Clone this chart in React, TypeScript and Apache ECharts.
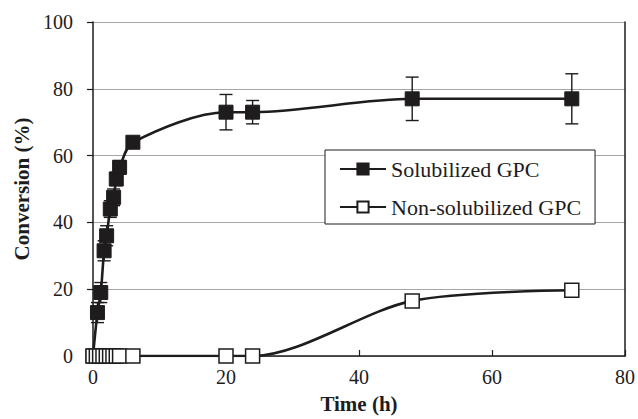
import React, { useEffect, useRef } from 'react';
import * as echarts from 'echarts';

const timeSol = [0, 0.67, 1.17, 1.67, 2.05, 2.6, 3.1, 3.5, 4, 6, 20, 24, 48, 72];
const convSol = [0, 13, 19, 31.5, 36, 44, 47.5, 53, 56.5, 64, 73, 73, 77, 77];
const errSol = [0, 3, 3, 3, 3, 2.5, 2.5, 2, 2, 1, 5.3, 3.5, 6.5, 7.5];

const timeNon = [0, 0.5, 1, 1.5, 2, 2.5, 3, 3.5, 4, 6, 20, 24, 48, 72];
const convNon = [0, 0, 0, 0, 0, 0, 0, 0, 0, 0, 0, 0, 16.5, 19.7];

const xTicks = [0, 20, 40, 60, 80];
const yTicks = [0, 20, 40, 60, 80, 100];

const seriesNames = ['Solubilized GPC', 'Non-solubilized GPC'];

const FONT = '"Liberation Serif", "Times New Roman", serif';
const INK = '#1e1c1d';

export default function App() {
  const ref = useRef<HTMLDivElement>(null);
  useEffect(() => {
    if (!ref.current) return;
    const chart = echarts.init(ref.current, null, { renderer: 'svg' });
    const solData = timeSol.map((t, i) => [t, convSol[i]]);
    const nonData = timeNon.map((t, i) => [t, convNon[i]]);
    const errData = timeSol.map((t, i) => [t, convSol[i] - errSol[i], convSol[i] + errSol[i]]);
    chart.setOption({
      animation: false,
      backgroundColor: '#fff',
      textStyle: { fontFamily: FONT },
      grid: { left: 93, right: 11, top: 22, bottom: 59, containLabel: false },
      legend: {
        data: seriesNames,
        orient: 'vertical',
        left: 325,
        top: 150,
        padding: [8, 14, 6, 14],
        itemGap: 16,
        itemWidth: 46,
        itemHeight: 14,
        borderColor: INK,
        borderWidth: 1,
        backgroundColor: '#fff',
        textStyle: { fontFamily: FONT, fontSize: 22, color: INK },
      },
      xAxis: {
        type: 'value',
        min: xTicks[0],
        max: xTicks[xTicks.length - 1],
        interval: 20,
        name: 'Time (h)',
        nameLocation: 'middle',
        nameGap: 37,
        nameTextStyle: { fontFamily: FONT, fontSize: 21, fontWeight: 'bold', color: INK },
        axisLine: { show: true, onZero: false, lineStyle: { color: INK, width: 1.5 } },
        axisTick: { show: true, inside: true, length: 6, lineStyle: { color: INK, width: 1.2 } },
        axisLabel: { fontFamily: FONT, fontSize: 20, color: INK, margin: 11 },
        splitLine: { show: false },
      },
      yAxis: [
        {
          type: 'value',
          min: yTicks[0],
          max: yTicks[yTicks.length - 1],
          interval: 20,
          name: 'Conversion (%)',
          nameLocation: 'middle',
          nameGap: 60,
          nameTextStyle: { fontFamily: FONT, fontSize: 21, fontWeight: 'bold', color: INK },
          axisLine: { show: true, lineStyle: { color: INK, width: 1.5 } },
          axisTick: { show: true, length: 6, lineStyle: { color: INK, width: 1.2 } },
          axisLabel: { fontFamily: FONT, fontSize: 20, color: INK, margin: 20 },
          splitLine: { show: true, lineStyle: { color: '#a6a6a6', width: 1.2 } },
        },
        {
          type: 'value',
          position: 'right',
          min: 0,
          max: 100,
          interval: 20,
          axisLine: { show: true, lineStyle: { color: INK, width: 1.5 } },
          axisTick: { show: false },
          axisLabel: { show: false },
          splitLine: { show: false },
        },
      ],
      series: [
        {
          name: seriesNames[0],
          type: 'line',
          data: solData,
          smooth: 0.3,
          symbol: 'rect',
          symbolSize: 14,
          lineStyle: { color: INK, width: 2.6 },
          itemStyle: { color: INK, borderColor: INK, borderWidth: 1 },
          z: 3,
        },
        {
          name: 'err',
          type: 'custom',
          data: errData,
          encode: { x: 0, y: [1, 2] },
          renderItem: (params: any, api: any) => {
            const x = api.value(0);
            const lo = api.coord([x, api.value(1)]);
            const hi = api.coord([x, api.value(2)]);
            const w = 6.5;
            const st = { stroke: INK, lineWidth: 1.4, fill: 'none' };
            return {
              type: 'group',
              children: [
                { type: 'line', shape: { x1: lo[0], y1: lo[1], x2: hi[0], y2: hi[1] }, style: st },
                { type: 'line', shape: { x1: lo[0] - w, y1: lo[1], x2: lo[0] + w, y2: lo[1] }, style: st },
                { type: 'line', shape: { x1: hi[0] - w, y1: hi[1], x2: hi[0] + w, y2: hi[1] }, style: st },
              ],
            };
          },
          z: 2,
        },
        {
          name: seriesNames[1],
          type: 'line',
          data: nonData,
          smooth: 0.3,
          symbol: 'rect',
          symbolSize: 14,
          lineStyle: { color: INK, width: 2.6 },
          itemStyle: { color: '#fff', borderColor: INK, borderWidth: 1.5 },
          z: 4,
        },
      ],
    });
    return () => chart.dispose();
  }, []);
  return <div ref={ref} style={{ width: 638, height: 419, position: 'absolute', left: 0, top: 0 }} />;
}
